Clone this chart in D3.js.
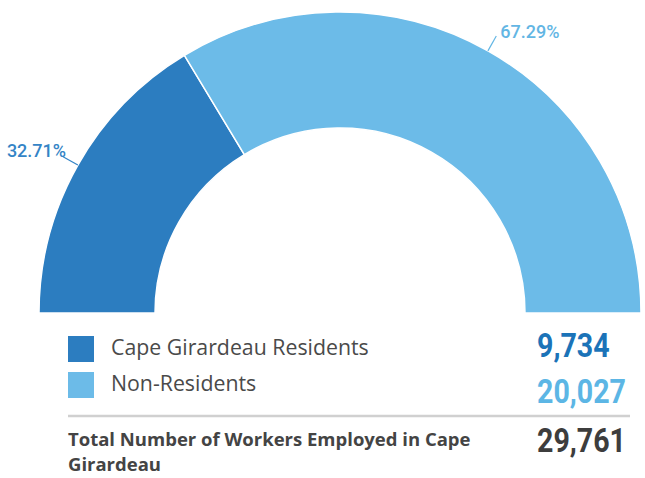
<!DOCTYPE html>
<html><head><meta charset="utf-8">
<script src="https://cdn.jsdelivr.net/npm/d3@7"></script>
<style>body{margin:0;background:#fff}svg{display:block}</style>
</head><body>
<script>
const categories = ["Cape Girardeau Residents", "Non-Residents"];
const values = [9734, 20027];
const percentLabels = ["32.71%", "67.29%"];
const totalLabel = ["Total Number of Workers Employed in Cape", "Girardeau"];
const colors = ["#2c7dc0", "#6cbbe8"];
const labelColors = ["#3484c6", "#63b6e4"];
const numberColors = ["#1b73b8", "#5cb6e5"];

const W = 645, H = 478;
const svg = d3.select("body").append("svg").attr("width", W).attr("height", H);
const cx = 340, cy = 313, R = 301, r = 185;
const fmt = d3.format(",");

const pie = d3.pie().sort(null).startAngle(-Math.PI/2).endAngle(Math.PI/2);
const arcs = pie(values);
const arc = d3.arc().innerRadius(r).outerRadius(R);
const g = svg.append("g").attr("transform", `translate(${cx},${cy})`);
g.selectAll("path").data(arcs).join("path")
  .attr("d", arc).attr("fill", (d,i)=>colors[i])
  .attr("stroke", "#fff").attr("stroke-width", 1.5);

const p1 = d3.arc().innerRadius(R).outerRadius(R);
const p2 = d3.arc().innerRadius(R+17).outerRadius(R+17);
arcs.forEach((d,i)=>{
  const a = p1.centroid(d), b = p2.centroid(d);
  g.append("line").attr("x1",a[0]).attr("y1",a[1]).attr("x2",b[0]).attr("y2",b[1])
    .attr("stroke", labelColors[i]).attr("stroke-width", 1.2);
  const left = b[0] < 0;
  g.append("text").attr("x", b[0] + (left?3:4)).attr("y", b[1] + (left?0:2))
    .attr("text-anchor", left ? "end" : "start")
    .attr("font-family", "Roboto, 'Open Sans', sans-serif").attr("font-weight", 500)
    .attr("font-size", 18).attr("fill", labelColors[i]).text(percentLabels[i]);
});

const numFont = "Roboto, 'Open Sans', sans-serif";
const numG = svg.append("g");
function addNumber(txt, y, color) {
  return numG.append("text").attr("x", 0).attr("y", y)
    .attr("font-family", numFont).attr("font-weight", 700).attr("font-size", 33)
    .attr("fill", color).text(txt);
}

// legend
const ly = d3.scalePoint().domain(categories).range([349, 385]);
categories.forEach((c,i)=>{
  svg.append("rect").attr("x",68).attr("y",ly(c)-13).attr("width",26).attr("height",26)
    .attr("fill", colors[i]);
  svg.append("text").attr("x",111).attr("y",ly(c)+6)
    .attr("font-family","'Open Sans', sans-serif").attr("font-size",21.3)
    .attr("fill","#4a4a4a").text(c);
  addNumber(fmt(values[i]), ly(c)+8 + i*10, numberColors[i]);
});

const total = d3.sum(values);
const totalNode = addNumber(fmt(total), 452, "#3d3d3d");
const kx = 89 / totalNode.node().getComputedTextLength();
numG.attr("transform", `translate(537,0) scale(${kx},1)`);

svg.append("line").attr("x1",68).attr("x2",630).attr("y1",416).attr("y2",416)
  .attr("stroke","#d0d0d0").attr("stroke-width",2.5);

totalLabel.forEach((t,i)=>{
  svg.append("text").attr("x",68).attr("y",446 + i*25)
    .attr("font-family","'Open Sans', sans-serif").attr("font-weight",700)
    .attr("font-size",18.5).attr("fill","#444").text(t);
});
</script>
</body></html>
